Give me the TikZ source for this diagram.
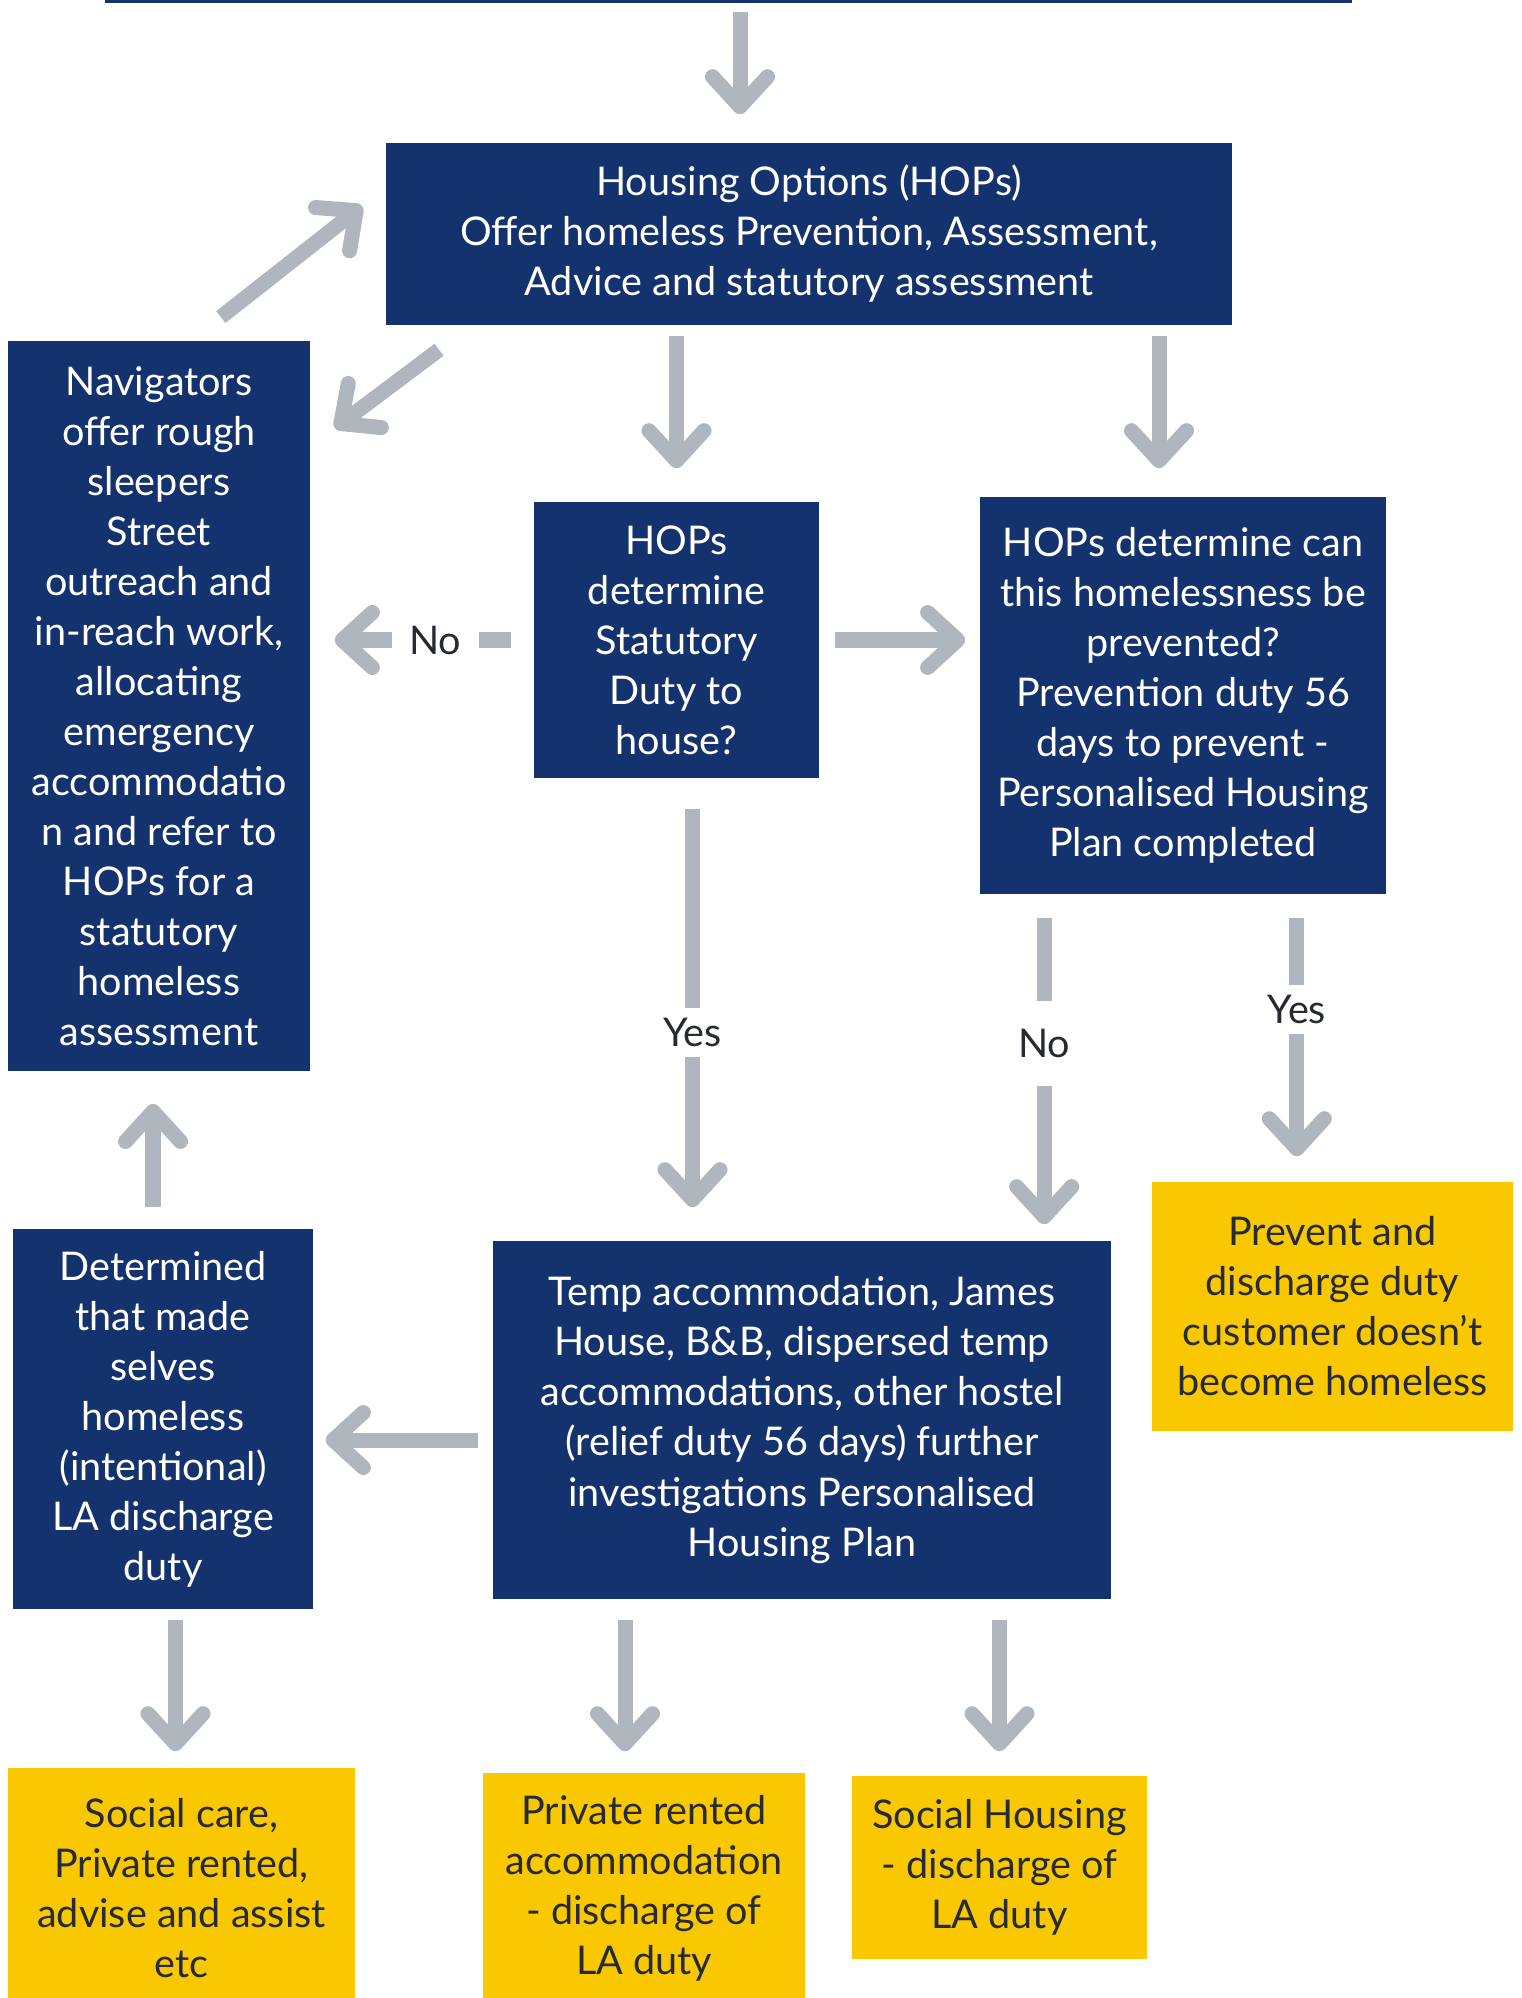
\documentclass[tikz,border=0pt]{standalone}
\usepackage{fontspec}
\setmainfont{Lato}
\usetikzlibrary{arrows.meta,calc}
\definecolor{navy}{HTML}{14336E}
\definecolor{gold}{HTML}{F9C800}
\definecolor{arrowgrey}{HTML}{B0B6BE}
\definecolor{ink}{HTML}{252A33}
\newcommand{\boxfont}{\fontsize{11.25}{14.23}\selectfont}
\tikzset{
  navybox/.style={fill=navy, text=white, align=center, inner sep=0pt, font=\boxfont},
  goldbox/.style={fill=gold, text=ink, align=center, inner sep=0pt, font=\boxfont},
  flow/.style={draw=arrowgrey, line width=0.15cm, -{Straight Barb[length=0.3cm,width=0.55cm,round]}},
  answer/.style={fill=white, text=ink, font=\boxfont, inner xsep=5pt, inner ysep=3pt}
}
\begin{document}
\begin{tikzpicture}[x=0.01cm, y=-0.01cm]
            \useasboundingbox (0,0) rectangle (1521,1998);
            % boxes
            \node[fill=navy, inner sep=0pt, minimum width=12.47cm, minimum height=0.03cm] (prior) at (728.5,1.5) {};
            \node[navybox, minimum width=8.46cm, minimum height=1.82cm] (hops) at (809,234)
                {Housing Options (HOPs)\\Offer homeless Prevention, Assessment,\\Advice and statutory assessment};
            \node[navybox, minimum width=3.02cm, minimum height=7.30cm] (nav) at (159,706)
                {Navigators\\offer rough\\sleepers\\Street\\outreach and\\in-reach work,\\allocating\\emergency\\accommodatio\\n and refer to\\HOPs for a\\statutory\\homeless\\assessment};
            \node[navybox, minimum width=2.85cm, minimum height=2.76cm] (det) at (676.5,640)
                {HOPs\\determine\\Statutory\\Duty to\\house?};
            \node[navybox, minimum width=4.06cm, minimum height=3.97cm] (prev) at (1183,695.5)
                {HOPs determine can\\this homelessness be\\prevented?\\Prevention duty 56\\days to prevent -\\Personalised Housing\\Plan completed};
            \node[goldbox, minimum width=3.61cm, minimum height=2.49cm] (prevdis) at (1332.5,1306.5)
                {Prevent and\\discharge duty\\customer doesn’t\\become homeless};
            \node[navybox, minimum width=6.18cm, minimum height=3.58cm] (temp) at (802,1420)
                {Temp accommodation, James\\House, B\&B, dispersed temp\\accommodations, other hostel\\(relief duty 56 days) further\\investigations Personalised\\Housing Plan};
            \node[navybox, minimum width=3.00cm, minimum height=3.80cm] (intent) at (163,1419)
                {Determined\\that made\\selves\\homeless\\(intentional)\\LA discharge\\duty};
            \node[goldbox, minimum width=3.47cm, minimum height=2.40cm] (socare) at (181.5,1888)
                {Social care,\\Private rented,\\advise and assist\\etc};
            \node[goldbox, minimum width=3.22cm, minimum height=2.30cm] (privrent) at (644,1888)
                {Private rented\\accommodation\\- discharge of\\LA duty};
            \node[goldbox, minimum width=2.95cm, minimum height=1.83cm] (sochous) at (999.5,1867.5)
                {Social Housing\\- discharge of\\LA duty};
            % arrow end points off the box centres
            \coordinate (p0) at ($(prior.south)+(11.5,0)$);
            \coordinate (d1) at ($(det.south)+(16,0)$);
            \coordinate (p1) at ($(prev.south west)+(65,0)$);
            \coordinate (p2) at ($(prev.south east)+(-90,0)$);
            \coordinate (t1) at ($(temp.west)+(0,20)$);
            \coordinate (h1) at ($(hops.south -| prev.north)+(-24,0)$);
            \coordinate (r1) at ($(temp.south -| privrent.north)+(-19,0)$);
            \coordinate (i1) at ($(intent.north)+(-10,0)$);
            \coordinate (i2) at ($(intent.south -| socare.north)+(-6,0)$);
            % arrows
            \draw[flow, shorten <=0.08cm, shorten >=0.28cm] (p0) -- (p0 |- hops.north);
            \draw[flow] ($(nav.north east)+(-90,-23)$) -- ($(hops.west)+(-23,-28)$);
            \draw[flow] ($(hops.south west)+(54,24)$) -- ($(nav.north east)+(24,88)$);
            \draw[flow, shorten <=0.1cm, shorten >=0.33cm] (hops.south -| det.north) -- (det.north);
            \draw[flow, shorten <=0.1cm, shorten >=0.28cm] (h1) -- (h1 |- prev.north);
            \draw[flow, shorten <=0.22cm, shorten >=0.24cm] (det.west) -- (det.west -| nav.east)
                node[answer, pos=0.44] {No};
            \draw[flow, shorten <=0.15cm, shorten >=0.14cm] (det.east) -- (det.east -| prev.west);
            \draw[flow, shorten <=0.30cm, shorten >=0.33cm] (d1) -- (d1 |- temp.north)
                node[answer, pos=0.55] {Yes};
            \draw[flow, shorten <=0.23cm, shorten >=0.16cm] (p1) -- (p1 |- temp.north)
                node[answer, pos=0.43, inner ysep=8pt] {No};
            \draw[flow, shorten <=0.23cm, shorten >=0.25cm] (p2) -- (p2 |- prevdis.north)
                node[answer, pos=0.40] {Yes};
            \draw[flow, shorten <=0.21cm, shorten >=0.32cm] (i1) -- (i1 |- nav.south);
            \draw[flow, shorten <=0.14cm, shorten >=0.12cm] (t1) -- (t1 -| intent.east);
            \draw[flow, shorten <=0.10cm, shorten >=0.16cm] (i2) -- (i2 |- socare.north);
            \draw[flow, shorten <=0.20cm, shorten >=0.21cm] (r1) -- (r1 |- privrent.north);
            \draw[flow, shorten <=0.20cm, shorten >=0.24cm] (temp.south -| sochous.north) -- (sochous.north);
\end{tikzpicture}
\end{document}
